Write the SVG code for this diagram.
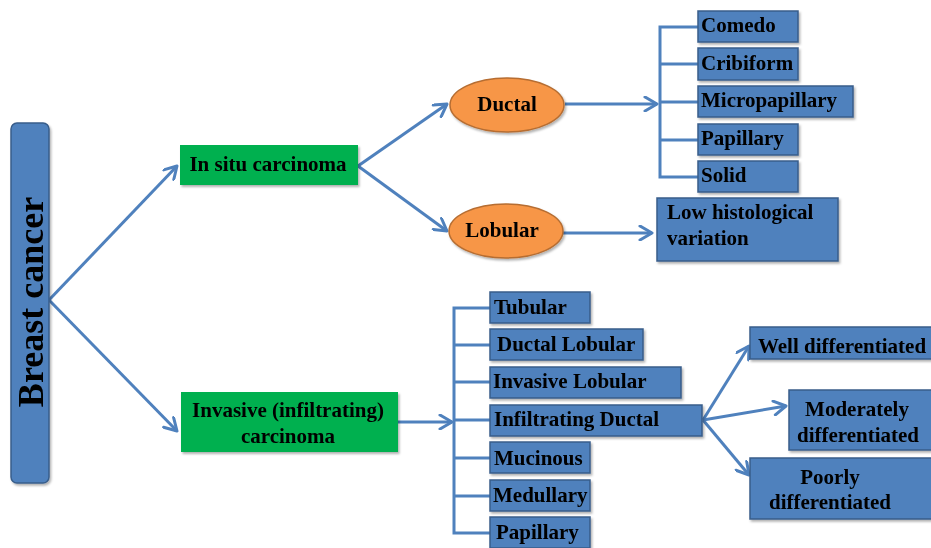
<svg xmlns="http://www.w3.org/2000/svg" width="931" height="548" viewBox="0 0 931 548">
<defs>
<marker id="arr" viewBox="0 0 16 16" refX="14" refY="8" markerWidth="16" markerHeight="16" markerUnits="userSpaceOnUse" orient="auto">
<path d="M2,1 L14,8 L2,15" fill="none" stroke="#4f81bd" stroke-width="3" stroke-linecap="round" stroke-linejoin="round"/>
</marker>
<filter id="sh" x="-10%" y="-10%" width="130%" height="140%">
<feDropShadow dx="1.5" dy="2" stdDeviation="1.2" flood-color="#000" flood-opacity="0.3"/>
</filter>
</defs>
<style>
.blue{fill:#4f81bd;stroke:#385d8a;stroke-width:1.5}
.green{fill:#00b050}
.orange{fill:#f79646;stroke:#b66d31;stroke-width:1.5}
.t{font-family:"Liberation Serif","Times New Roman",serif;font-weight:bold;font-size:21px;fill:#000}
.c{text-anchor:middle}
.ln{fill:none;stroke:#4f81bd;stroke-width:3}
</style>
<g id="connectors">
<line class="ln" x1="49" y1="300" x2="177" y2="166" marker-end="url(#arr)"/>
<line class="ln" x1="49" y1="300" x2="177" y2="431" marker-end="url(#arr)"/>
<line class="ln" x1="358" y1="166" x2="447" y2="104" marker-end="url(#arr)"/>
<line class="ln" x1="358" y1="166" x2="447" y2="231" marker-end="url(#arr)"/>
<line class="ln" x1="565" y1="104" x2="657" y2="104" marker-end="url(#arr)"/>
<line class="ln" x1="563" y1="233" x2="652" y2="233" marker-end="url(#arr)"/>
<path class="ln" d="M698,27 H660 V177 H698 M660,64 H698 M660,102 H698 M660,140 H698"/>
<line class="ln" x1="398" y1="422" x2="452" y2="422" marker-end="url(#arr)"/>
<path class="ln" d="M490,308 H454 V533 H490 M454,345 H490 M454,382 H490 M454,420 H490 M454,458 H490 M454,496 H490"/>
<line class="ln" x1="703" y1="420" x2="749" y2="346" marker-end="url(#arr)"/>
<line class="ln" x1="703" y1="420" x2="786" y2="406" marker-end="url(#arr)"/>
<line class="ln" x1="703" y1="420" x2="749" y2="475" marker-end="url(#arr)"/>
</g>
<g id="breast-cancer" filter="url(#sh)">
<rect class="blue" x="11" y="123" width="38" height="360" rx="6"/>
<text class="t c" transform="translate(43,302) rotate(-90)" style="font-size:36px">Breast cancer</text>
</g>
<g id="in-situ" filter="url(#sh)">
<rect class="green" x="180" y="145" width="178" height="40"/>
<text class="t c" x="268" y="171">In situ carcinoma</text>
</g>
<g id="invasive" filter="url(#sh)">
<rect class="green" x="181" y="392" width="217" height="60"/>
<text class="t c" x="288" y="417">Invasive (infiltrating)</text>
<text class="t c" x="288" y="443">carcinoma</text>
</g>
<g id="ductal" filter="url(#sh)">
<ellipse class="orange" cx="507" cy="105" rx="57" ry="27"/>
<text class="t c" x="507" y="111">Ductal</text>
</g>
<g id="lobular" filter="url(#sh)">
<ellipse class="orange" cx="506" cy="231" rx="57" ry="27"/>
<text class="t c" x="502" y="237">Lobular</text>
</g>
<g id="comedo" filter="url(#sh)"><rect class="blue" x="698" y="11" width="100" height="31"/><text class="t" x="701" y="32">Comedo</text></g>
<g id="cribiform" filter="url(#sh)"><rect class="blue" x="698" y="48" width="100" height="32"/><text class="t" x="701" y="70">Cribiform</text></g>
<g id="micropapillary" filter="url(#sh)"><rect class="blue" x="698" y="86" width="155" height="31"/><text class="t" x="701" y="107">Micropapillary</text></g>
<g id="papillary-1" filter="url(#sh)"><rect class="blue" x="698" y="124" width="100" height="31"/><text class="t" x="701" y="145">Papillary</text></g>
<g id="solid" filter="url(#sh)"><rect class="blue" x="698" y="161" width="100" height="31"/><text class="t" x="701" y="182">Solid</text></g>
<g id="low-histological" filter="url(#sh)"><rect class="blue" x="657" y="198" width="181" height="63"/><text class="t" x="667" y="219">Low histological</text><text class="t" x="667" y="245">variation</text></g>
<g id="tubular" filter="url(#sh)"><rect class="blue" x="490" y="292" width="100" height="31"/><text class="t" x="494" y="314">Tubular</text></g>
<g id="ductal-lobular" filter="url(#sh)"><rect class="blue" x="490" y="329" width="153" height="31"/><text class="t" x="497" y="351">Ductal Lobular</text></g>
<g id="invasive-lobular" filter="url(#sh)"><rect class="blue" x="490" y="367" width="191" height="31"/><text class="t" x="493" y="388">Invasive Lobular</text></g>
<g id="infiltrating-ductal" filter="url(#sh)"><rect class="blue" x="490" y="405" width="212" height="31"/><text class="t" x="494" y="426">Infiltrating Ductal</text></g>
<g id="mucinous" filter="url(#sh)"><rect class="blue" x="490" y="442" width="100" height="31"/><text class="t" x="494" y="465">Mucinous</text></g>
<g id="medullary" filter="url(#sh)"><rect class="blue" x="490" y="480" width="100" height="31"/><text class="t" x="493" y="502">Medullary</text></g>
<g id="papillary-2" filter="url(#sh)"><rect class="blue" x="490" y="517" width="100" height="31"/><text class="t" x="496" y="539">Papillary</text></g>
<g id="well" filter="url(#sh)"><rect class="blue" x="750" y="327" width="185" height="32"/><text class="t c" x="842" y="353">Well differentiated</text></g>
<g id="moderately" filter="url(#sh)"><rect class="blue" x="789" y="390" width="146" height="60"/><text class="t c" x="857" y="416">Moderately</text><text class="t c" x="858" y="442">differentiated</text></g>
<g id="poorly" filter="url(#sh)"><rect class="blue" x="750" y="458" width="185" height="61"/><text class="t c" x="830" y="484">Poorly</text><text class="t c" x="830" y="509">differentiated</text></g>
</svg>
